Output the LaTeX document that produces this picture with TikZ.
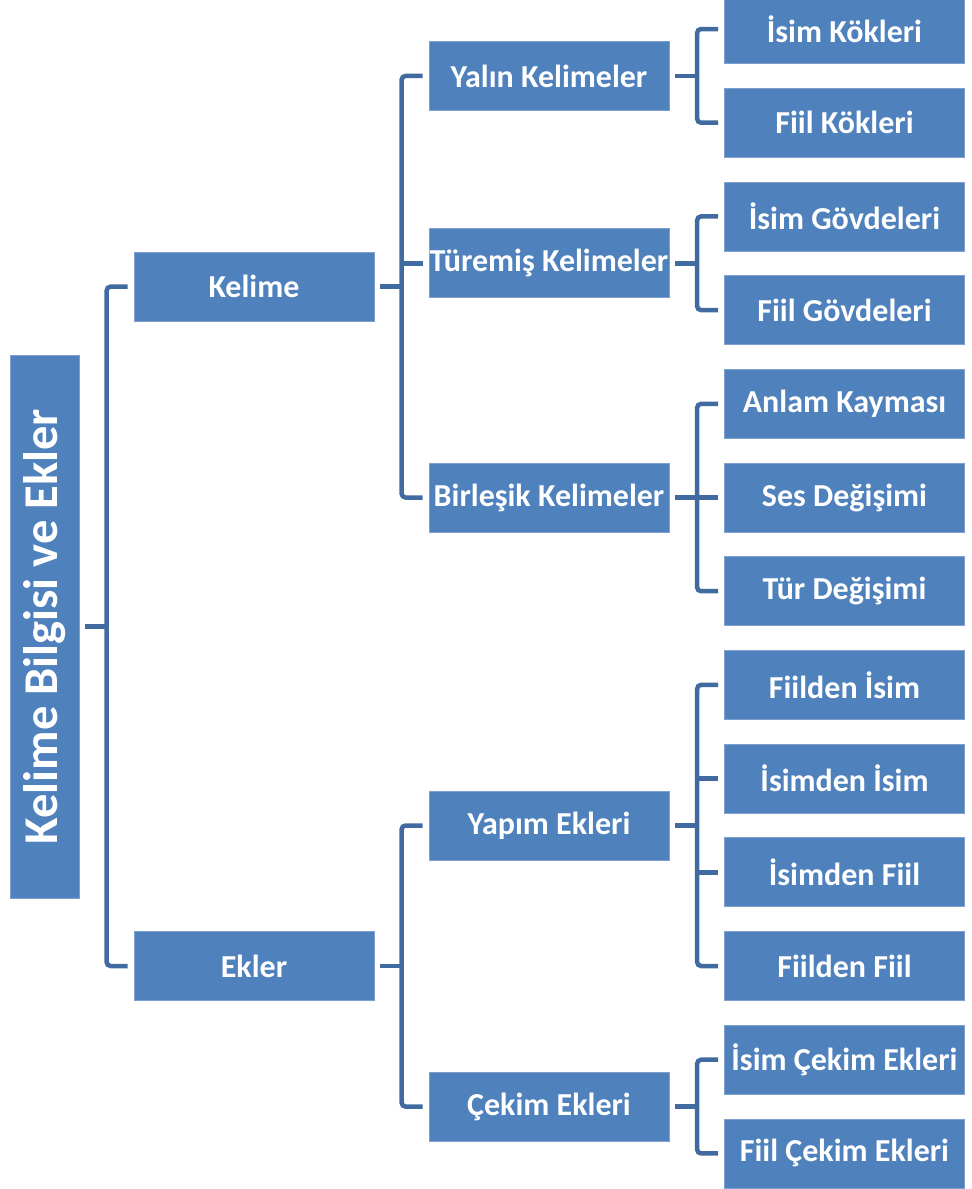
\documentclass[tikz,border=0pt]{standalone}
\usepackage{fontspec}
\setmainfont{Carlito}
\definecolor{boxblue}{RGB}{79,129,189}
\definecolor{boxedge}{RGB}{125,160,206}
\definecolor{linkblue}{RGB}{64,106,160}
\begin{document}
\begin{tikzpicture}[x=1bp,y=-1bp,
  card/.style={fill=boxblue, draw=boxedge, line width=0.8bp,
    minimum width=240bp, minimum height=69bp, inner sep=0pt,
    text=white, font=\fontsize{32bp}{38bp}\selectfont\bfseries},
  conn/.style={draw=linkblue, line width=4.5bp, rounded corners=4bp},
]
\useasboundingbox (0,0) rectangle (972,1189);
\clip (0,0) rectangle (972,1189);

% root, set vertically
\node[card, rotate=90, minimum width=543bp, minimum height=69bp,
      font=\fontsize{48.5bp}{58bp}\selectfont\bfseries] (root) at (44.5,626.5) {Kelime Bilgisi ve Ekler};

% first level
\node[card] (kelime) at (254,286.7) {Kelime};
\node[card] (ekler)  at (254,966)   {Ekler};

% second level
\node[card] (yalin)    at (549,75.9)   {Yalın Kelimeler};
\node[card] (turemis)  at (549,263.3)  {Türemiş Kelimeler};
\node[card] (birlesik) at (549,497.5)  {Birleşik Kelimeler};
\node[card] (yapim)    at (549,825.5)  {Yapım Ekleri};
\node[card] (cekim)    at (549,1106.6) {Çekim Ekleri};

% third level
\node[card] (isimkok)  at (844.5,29)     {İsim Kökleri};
\node[card] (fiilkok)  at (844.5,122.7)  {Fiil Kökleri};
\node[card] (isimgov)  at (844.5,216.4)  {İsim Gövdeleri};
\node[card] (fiilgov)  at (844.5,310.1)  {Fiil Gövdeleri};
\node[card] (anlam)    at (844.5,403.8)  {Anlam Kayması};
\node[card] (ses)      at (844.5,497.5)  {Ses Değişimi};
\node[card] (tur)      at (844.5,591.2)  {Tür Değişimi};
\node[card] (fiisim)   at (844.5,684.9)  {Fiilden İsim};
\node[card] (isisim)   at (844.5,778.6)  {İsimden İsim};
\node[card] (isfiil)   at (844.5,872.3)  {İsimden Fiil};
\node[card] (fifiil)   at (844.5,966)    {Fiilden Fiil};
\node[card] (isimcek)  at (844.5,1059.7) {İsim Çekim Ekleri};
\node[card] (fiilcek)  at (844.5,1153.4) {Fiil Çekim Ekleri};

% root -> first level
\draw[conn] ([xshift=6bp]root.south) -- ++(22,0);
\draw[conn] ([xshift=-6bp]kelime.west) -- ++(-21,0) |- ([xshift=-6bp]ekler.west);

% Kelime -> second level
\draw[conn] ([xshift=6bp]kelime.east) -- ++(22,0);
\draw[conn] ([xshift=-6bp]yalin.west) -- ++(-21,0) |- ([xshift=-6bp]birlesik.west);
\draw[conn] ([xshift=-6bp]turemis.west) -- ++(-21,0);

% Ekler -> second level
\draw[conn] ([xshift=6bp]ekler.east) -- ++(22,0);
\draw[conn] ([xshift=-6bp]yapim.west) -- ++(-21,0) |- ([xshift=-6bp]cekim.west);

% Yalın Kelimeler
\draw[conn] ([xshift=6bp]yalin.east) -- ++(22,0);
\draw[conn] ([xshift=-6bp]isimkok.west) -- ++(-21,0) |- ([xshift=-6bp]fiilkok.west);

% Türemiş Kelimeler
\draw[conn] ([xshift=6bp]turemis.east) -- ++(22,0);
\draw[conn] ([xshift=-6bp]isimgov.west) -- ++(-21,0) |- ([xshift=-6bp]fiilgov.west);

% Birleşik Kelimeler
\draw[conn] ([xshift=6bp]birlesik.east) -- ++(22,0);
\draw[conn] ([xshift=-6bp]anlam.west) -- ++(-21,0) |- ([xshift=-6bp]tur.west);
\draw[conn] ([xshift=-6bp]ses.west) -- ++(-21,0);

% Yapım Ekleri
\draw[conn] ([xshift=6bp]yapim.east) -- ++(22,0);
\draw[conn] ([xshift=-6bp]fiisim.west) -- ++(-21,0) |- ([xshift=-6bp]fifiil.west);
\draw[conn] ([xshift=-6bp]isisim.west) -- ++(-21,0);
\draw[conn] ([xshift=-6bp]isfiil.west) -- ++(-21,0);

% Çekim Ekleri
\draw[conn] ([xshift=6bp]cekim.east) -- ++(22,0);
\draw[conn] ([xshift=-6bp]isimcek.west) -- ++(-21,0) |- ([xshift=-6bp]fiilcek.west);
\end{tikzpicture}
\end{document}
